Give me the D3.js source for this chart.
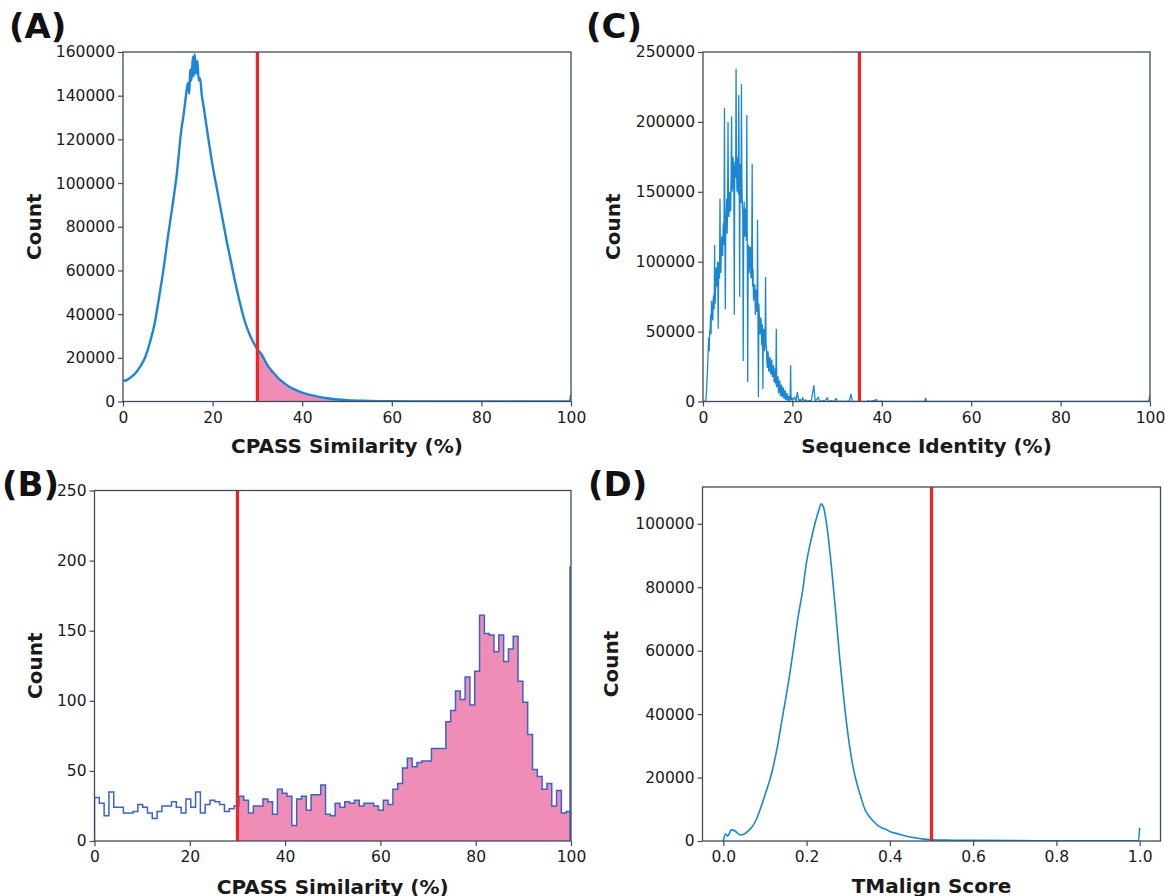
<!DOCTYPE html>
<html>
<head>
<meta charset="utf-8">
<script src="https://cdn.jsdelivr.net/npm/d3@7"></script>
<style>
  html, body { margin: 0; padding: 0; background: #fff; }
  svg { display: block; font-family: "DejaVu Sans", sans-serif; }
</style>
</head>
<body>
<svg id="chart" width="1165" height="896"></svg>
<script>
// ---------------- DATA ----------------
// (A) CPASS similarity, all pairs (fine histogram read as points)
const cpassAllX = [0, 0.5, 1, 2, 3, 4, 5, 6, 7, 8, 9, 10, 11, 12, 13, 13.5, 14, 14.5, 14.8, 15, 15.3, 15.6, 15.8, 16, 16.3, 16.6, 16.9, 17.2, 17.6, 18, 19, 20, 21, 22, 23, 24, 25, 26, 27, 28, 29, 30, 31, 32, 33, 34, 35, 36, 37, 38, 39, 40, 42, 44, 46, 48, 50, 55, 60, 70, 80, 99.8, 100];
const cpassAllCount = [10000, 9500, 10000, 11500, 13500, 16500, 20500, 27000, 35000, 47000, 60000, 75000, 89000, 104000, 124000, 131000, 139000, 146000, 141000, 152000, 147000, 158000, 149000, 159000, 150000, 156000, 147000, 148000, 140000, 135000, 121000, 108000, 97000, 86000, 75000, 65000, 55000, 46000, 38000, 32000, 27500, 24000, 21300, 17500, 14500, 12200, 10000, 8400, 6900, 5800, 4900, 4100, 2900, 2000, 1400, 900, 600, 300, 100, 30, 10, 0, 3000];
const cpassThreshold = 30;

// (B) CPASS similarity, homologous pairs: 99 bins over 0-100
const cpassHomCount = [31, 27, 18, 35, 24, 24, 20, 20, 21, 26, 24, 20, 16, 21, 25, 25, 28, 24, 20, 30, 24, 35, 20, 26, 29, 28, 26, 21, 23, 25, 32, 29, 20, 25, 25, 30, 28, 19, 37, 34, 32, 11, 30, 32, 22, 33, 33, 40, 19, 18,
  27, 24, 28, 27, 29, 25, 27, 27, 25, 22, 29, 26, 37, 41, 52, 59, 53, 56, 57, 57, 66, 66, 66, 85, 93, 107, 101, 117, 97, 121, 161, 148, 147, 135, 147, 128, 137, 146, 114, 99, 76, 51, 46, 37, 41, 25, 36, 20, 21];
const cpassHomEdgeSpike = 196;   // count drawn at x = 100

// (C) Sequence identity: core 0-20 % sampled every 0.1 %
const seqIdStep = 0.1;
const seqIdCoreCount = [
  0, 0, 0, 0, 0, 0, 0, 3000, 8000, 16000,
  22000, 30000, 40000, 46000, 36000, 50000, 52000, 62000, 48000, 72000,
  70000, 60000, 58000, 74000, 76000, 66000, 112000, 70000, 78000, 92000,
  96000, 84000, 82000, 100000, 52000, 94000, 100000, 88000, 145000, 96000,
  92000, 112000, 118000, 106000, 104000, 124000, 128000, 112000, 210000, 118000,
  66000, 128000, 135000, 145000, 120000, 140000, 200000, 134000, 132000, 148000,
  150000, 136000, 138000, 165000, 204000, 150000, 155000, 175000, 170000, 150000,
  62000, 168000, 172000, 160000, 238000, 170000, 150000, 168000, 175000, 148000,
  219000, 160000, 75000, 168000, 170000, 142000, 227000, 160000, 140000, 135000,
  29000, 125000, 143000, 120000, 118000, 138000, 135000, 115000, 205000, 120000,
  14000, 108000, 112000, 92000, 98000, 110000, 110000, 90000, 88000, 105000,
  170000, 82000, 95000, 72000, 80000, 78000, 84000, 62000, 66000, 80000,
  78000, 64000, 130000, 60000, 3000, 70000, 62000, 48000, 50000, 60000,
  58000, 42000, 40000, 55000, 9000, 50000, 52000, 40000, 36000, 48000,
  89000, 42000, 38000, 28000, 24000, 36000, 34000, 22000, 22000, 30000,
  32000, 20000, 20000, 28000, 30000, 18000, 18000, 24000, 26000, 14000,
  14000, 20000, 24000, 12000, 52000, 10000, 12000, 16000, 18000, 6000,
  8000, 14000, 15000, 4000, 5000, 11000, 12000, 3000, 4000, 9000,
  10000, 2000, 3000, 7000, 8000, 1000, 2000, 5000, 6000, 1000,
  1000, 3000, 4000, 500, 1000, 2000, 26000, 1000, 2000, 3000,
  1000];
const seqIdTailX = [20.5, 20.8, 21.1, 21.4, 21.7, 22.0, 22.3, 22.6, 23.0, 23.4, 23.8, 24.2, 24.8, 25.1, 25.8, 26.1, 26.8, 27.2, 27.8, 28.1, 28.8, 29.2, 29.8, 30.1, 31.0, 31.5, 32.2, 32.7, 33.1, 33.4, 36.5, 37.0, 37.4, 38.8, 39.1, 40.2, 40.5, 49.6, 49.8, 50.0, 99.7, 100];
const seqIdTailCount = [3000, 200, 6700, 300, 1500, 200, 2500, 100, 1200, 200, 800, 0, 11500, 0, 3000, 0, 800, 0, 2600, 0, 500, 0, 2000, 0, 300, 0, 200, 0, 5500, 0, 0, 600, 0, 1200, 0, 300, 0, 0, 2600, 0, 0, 4500];
const seqIdThreshold = 35;

// (D) TMalign score
const tmX = [0, 0.005, 0.01, 0.02, 0.03, 0.04, 0.05, 0.06, 0.07, 0.08, 0.09, 0.10, 0.11, 0.12, 0.13, 0.14, 0.15, 0.16, 0.17, 0.18, 0.19, 0.20, 0.21, 0.22, 0.23, 0.235, 0.24, 0.25, 0.26, 0.27, 0.28, 0.29, 0.30, 0.31, 0.32, 0.33, 0.34, 0.35, 0.36, 0.37, 0.38, 0.39, 0.40, 0.42, 0.44, 0.46, 0.48, 0.50, 0.55, 0.60, 0.70, 0.80, 0.90, 0.997, 1.0];
const tmCount = [0, 2300, 1500, 3600, 3000, 1900, 2200, 3200, 4600, 7000, 10500, 14500, 18500, 23500, 29800, 37500, 45000, 53000, 62000, 71000, 78500, 88000, 94500, 100000, 104500, 106300, 105500, 98000, 86000, 72000, 57000, 44000, 33000, 24500, 18500, 14000, 10000, 7800, 6300, 5000, 4200, 3700, 3000, 2200, 1500, 1000, 600, 400, 250, 200, 120, 80, 50, 50, 4200];
const tmThreshold = 0.5;

const xTicksPct = [0, 20, 40, 60, 80, 100];
const yTicksA = [0, 20000, 40000, 60000, 80000, 100000, 120000, 140000, 160000];
const yTicksB = [0, 50, 100, 150, 200, 250];
const yTicksC = [0, 50000, 100000, 150000, 200000, 250000];
const yTicksD = [0, 20000, 40000, 60000, 80000, 100000];
const xTicksD = [0, 0.2, 0.4, 0.6, 0.8, 1.0];

// ---------------- STYLE ----------------
const BLUE = "#1b87d3";
const STEPBLUE = "#3c62c6";
const PINK = "#f08db6";
const RED = "#f42323";
const FRAME = "#3d4b5c";
const TEXT = "#1a1a1a";

const svg = d3.select("#chart");

function panel(cfg) {
  const g = svg.append("g").attr("transform", `translate(${cfg.left},${cfg.top})`);
  const x = d3.scaleLinear().domain(cfg.xDomain).range([0, cfg.w]);
  const y = d3.scaleLinear().domain(cfg.yDomain).range([cfg.h, 0]);
  const clipId = "clip" + cfg.id;
  g.append("clipPath").attr("id", clipId).append("rect").attr("width", cfg.w).attr("height", cfg.h);
  const plot = g.append("g").attr("clip-path", `url(#${clipId})`);

  cfg.draw(plot, x, y);

  // threshold line
  plot.append("line")
    .attr("x1", x(cfg.threshold)).attr("x2", x(cfg.threshold))
    .attr("y1", 0).attr("y2", cfg.h)
    .attr("stroke", RED).attr("stroke-width", 3.2);

  // axes
  const xa = g.append("g").attr("transform", `translate(0,${cfg.h})`)
    .call(d3.axisBottom(x).tickValues(cfg.xTicks).tickFormat(cfg.xFmt).tickSize(5).tickPadding(5));
  const ya = g.append("g")
    .call(d3.axisLeft(y).tickValues(cfg.yTicks).tickFormat(d3.format("d")).tickSize(5).tickPadding(3));
  [xa, ya].forEach(a => {
    a.select(".domain").remove();
    a.selectAll("line").attr("stroke", FRAME).attr("stroke-width", 1.2);
    a.selectAll("text").attr("fill", TEXT).style("font-size", "15.5px").style("font-family", "DejaVu Sans");
  });

  // frame
  g.append("rect").attr("width", cfg.w).attr("height", cfg.h)
    .attr("fill", "none").attr("stroke", FRAME).attr("stroke-width", 1.3);

  // axis titles
  g.append("text").attr("x", cfg.w / 2).attr("y", cfg.h + cfg.xTitleDy)
    .attr("text-anchor", "middle").attr("fill", TEXT)
    .style("font-size", "20px").style("font-weight", "bold")
    .text(cfg.xTitle);
  g.append("text")
    .attr("transform", `translate(${cfg.yTitleX},${cfg.h / 2}) rotate(-90)`)
    .attr("text-anchor", "middle").attr("fill", TEXT)
    .style("font-size", "20px").style("font-weight", "bold")
    .text("Count");

  // panel letter
  svg.append("text").attr("x", cfg.letterX).attr("y", cfg.letterY)
    .attr("fill", "#111").style("font-size", "34px").style("font-weight", "bold")
    .text(cfg.letter);
}

// (A)
panel({
  id: "A", left: 123, top: 52, w: 448, h: 349.5,
  xDomain: [0, 100], yDomain: [0, 160000],
  xTicks: xTicksPct, yTicks: yTicksA, xFmt: d3.format("d"),
  threshold: cpassThreshold,
  xTitle: "CPASS Similarity (%)", xTitleDy: 51, yTitleX: -82,
  letter: "(A)", letterX: 9, letterY: 38,
  draw(plot, x, y) {
    const pts = cpassAllX.map((d, i) => [d, cpassAllCount[i]]);
    const tail = pts.filter(p => p[0] >= cpassThreshold && p[0] < 99.9);
    plot.append("path").datum(tail)
      .attr("d", d3.area().x(p => x(p[0])).y0(y(0)).y1(p => y(p[1])).curve(d3.curveMonotoneX))
      .attr("fill", PINK).attr("stroke", STEPBLUE).attr("stroke-width", 1);
    plot.append("path").datum(pts)
      .attr("d", d3.line().x(p => x(p[0])).y(p => y(p[1])).curve(d3.curveMonotoneX))
      .attr("fill", "none").attr("stroke", BLUE).attr("stroke-width", 2.4);
  }
});

// (B)
panel({
  id: "B", left: 94.5, top: 490.5, w: 476.5, h: 350.5,
  xDomain: [0, 100], yDomain: [0, 250],
  xTicks: xTicksPct, yTicks: yTicksB, xFmt: d3.format("d"),
  threshold: cpassThreshold,
  xTitle: "CPASS Similarity (%)", xTitleDy: 53, yTitleX: -53,
  letter: "(B)", letterX: 2, letterY: 496,
  draw(plot, x, y) {
    const n = cpassHomCount.length;
    const width = 100 / n;
    const bins = cpassHomCount.map((c, i) => ({ x0: i * width, x1: (i + 1) * width, c }));
    const stepPts = [];
    bins.forEach(b => { stepPts.push([b.x0, b.c]); });
    stepPts.push([100, cpassHomCount[n - 1]]);
    // pink fill for bins at/above threshold
    const fillBins = bins.filter(b => b.x0 >= cpassThreshold);
    const fillPts = fillBins.map(b => [b.x0, b.c]).concat([[100, fillBins[fillBins.length - 1].c]]);
    plot.append("path").datum(fillPts)
      .attr("d", d3.area().x(p => x(p[0])).y0(y(0)).y1(p => y(p[1])).curve(d3.curveStepAfter))
      .attr("fill", PINK);
    const outline = [[0, 0]].concat(stepPts).concat([[100, 0]]);
    plot.append("path").datum(outline)
      .attr("d", d3.line().x(p => x(p[0])).y(p => y(p[1])).curve(d3.curveStepAfter))
      .attr("fill", "none").attr("stroke", STEPBLUE).attr("stroke-width", 1.5);
    plot.append("line")
      .attr("x1", x(100) - 1).attr("x2", x(100) - 1)
      .attr("y1", y(0)).attr("y2", y(cpassHomEdgeSpike))
      .attr("stroke", STEPBLUE).attr("stroke-width", 1.5);
  }
});

// (C)
panel({
  id: "C", left: 703, top: 52, w: 447, h: 349.5,
  xDomain: [0, 100], yDomain: [0, 250000],
  xTicks: xTicksPct, yTicks: yTicksC, xFmt: d3.format("d"),
  threshold: seqIdThreshold,
  xTitle: "Sequence Identity (%)", xTitleDy: 51, yTitleX: -83,
  letter: "(C)", letterX: 586, letterY: 38,
  draw(plot, x, y) {
    const pts = seqIdCoreCount.map((c, i) => [i * seqIdStep, c])
      .concat(seqIdTailX.map((d, i) => [d, seqIdTailCount[i]]));
    plot.append("path").datum(pts)
      .attr("d", d3.line().x(p => x(p[0])).y(p => y(p[1])))
      .attr("fill", "none").attr("stroke", BLUE).attr("stroke-width", 1.3)
      .attr("stroke-linejoin", "miter");
  }
});

// (D)
panel({
  id: "D", left: 702.5, top: 487, w: 458, h: 354,
  xDomain: [-0.05, 1.05], yDomain: [0, 111600],
  xTicks: xTicksD, yTicks: yTicksD, xFmt: d3.format(".1f"),
  threshold: tmThreshold,
  xTitle: "TMalign Score", xTitleDy: 52, yTitleX: -85,
  letter: "(D)", letterX: 588, letterY: 496,
  draw(plot, x, y) {
    const pts = tmX.map((d, i) => [d, tmCount[i]]);
    plot.append("path").datum(pts)
      .attr("d", d3.line().x(p => x(p[0])).y(p => y(p[1])).curve(d3.curveMonotoneX))
      .attr("fill", "none").attr("stroke", BLUE).attr("stroke-width", 1.6);
  }
});
</script>
</body>
</html>
